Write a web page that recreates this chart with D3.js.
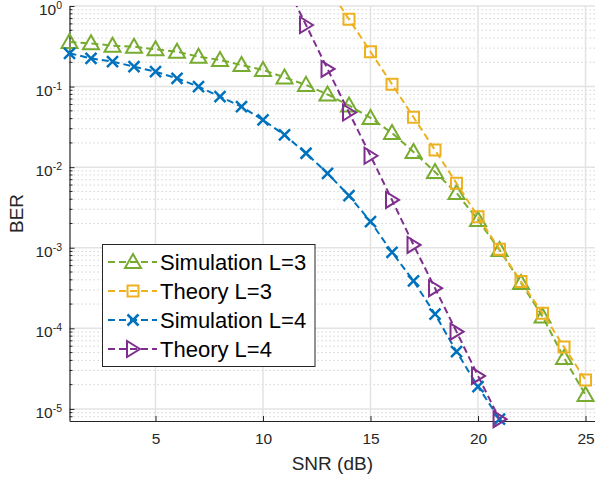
<!DOCTYPE html>
<html>
<head>
<meta charset="utf-8">
<script src="https://cdn.jsdelivr.net/npm/d3@7/dist/d3.min.js"></script>
<style>
  body { margin: 0; background: #fff; }
  svg { display: block; font-family: "Liberation Sans", Arial, sans-serif; }
</style>
</head>
<body>
<svg id="chart" width="595" height="480"></svg>
<script>
"use strict";

// valeurs
var snrSimL3 = [1, 2, 3, 4, 5, 6, 7, 8, 9, 10, 11, 12, 13, 14, 15, 16, 17, 18, 19, 20, 21, 22, 23, 24, 25];
var berSimL3 = [0.357, 0.344, 0.322, 0.313, 0.290, 0.271, 0.235, 0.214, 0.185, 0.161, 0.130, 0.105, 0.0798,
    0.0583, 0.0408, 0.0266, 0.01545, 0.00872, 0.00479, 0.00221, 0.00094, 0.000366, 0.00014, 4.29e-5, 1.49e-5];

var snrTheoL3 = [13, 14, 15, 16, 17, 18, 19, 20, 21, 22, 23, 24, 25];
var berTheoL3 = [1.73, 0.684, 0.271, 0.107, 0.0416, 0.0163, 0.00631, 0.00243, 0.000958, 0.00038, 0.000154, 5.87e-5, 2.29e-5];

var snrSimL4 = [1, 2, 3, 4, 5, 6, 7, 8, 9, 10, 11, 12, 13, 14, 15, 16, 17, 18, 19, 20, 21];
var berSimL4 = [0.259, 0.224, 0.204, 0.177, 0.153, 0.1267, 0.0997, 0.0749, 0.0563, 0.0385, 0.0251, 0.01488,
    0.0084, 0.00442, 0.00211, 0.000879, 0.000387, 0.00015, 5.14e-5, 1.89e-5, 7.45e-6];

var snrTheoL4 = [11, 12, 13, 14, 15, 16, 17, 18, 19, 20, 21];
var berTheoL4 = [2.04, 0.581, 0.1654, 0.0477, 0.01385, 0.00392, 0.001084, 0.000315, 9.1e-5, 2.57e-5, 7.45e-6];

var xTicks = [5, 10, 15, 20, 25];
var yExposants = [0, -1, -2, -3, -4, -5];

var series = [
    {nom: "Simulation L=3", snr: snrSimL3, ber: berSimL3, couleur: "#77ac30", marqueur: "triangleHaut"},
    {nom: "Theory L=3", snr: snrTheoL3, ber: berTheoL3, couleur: "#edb120", marqueur: "carre"},
    {nom: "Simulation L=4", snr: snrSimL4, ber: berSimL4, couleur: "#0072bd", marqueur: "croix"},
    {nom: "Theory L=4", snr: snrTheoL4, ber: berTheoL4, couleur: "#7e2f8e", marqueur: "triangleDroite"}
];

var svg = d3.select("#chart");
var gauche = 69.5, droite = 595.2, haut = 6, bas = 421;

var x = d3.scaleLinear().domain([1, 25.45]).range([gauche, droite]);
var y = d3.scaleLog().domain([Math.pow(10, -5.15), 1]).range([bas, haut]);

// graduations mineures (2..9 x 10^k)
var mineurs = [];
for (var k = -6; k <= 0; k++) {
    for (var m = 2; m <= 9; m++) {
        var v = m * Math.pow(10, k);
        if (v >= y.domain()[0] && v <= 1) mineurs.push(v);
    }
}

// grille mineure pointillée
svg.append("g").selectAll("line").data(mineurs).enter().append("line")
    .attr("x1", gauche).attr("x2", droite)
    .attr("y1", function(d) { return y(d); }).attr("y2", function(d) { return y(d); })
    .attr("stroke", "#d4d4d4").attr("stroke-width", 1).attr("stroke-dasharray", "1.5,2.5");

// grille majeure
svg.append("g").selectAll("line").data(yExposants).enter().append("line")
    .attr("x1", gauche).attr("x2", droite)
    .attr("y1", function(d) { return y(Math.pow(10, d)); }).attr("y2", function(d) { return y(Math.pow(10, d)); })
    .attr("stroke", "#e3e3e3").attr("stroke-width", 1.5);
svg.append("g").selectAll("line").data(xTicks).enter().append("line")
    .attr("x1", function(d) { return x(d); }).attr("x2", function(d) { return x(d); })
    .attr("y1", haut).attr("y2", bas)
    .attr("stroke", "#e3e3e3").attr("stroke-width", 1.5);

// axes
var axeX = d3.axisBottom(x).tickValues(xTicks).tickSize(-5).tickSizeOuter(0).tickPadding(12);
var gx = svg.append("g").attr("transform", "translate(0," + bas + ")").call(axeX);
gx.select(".domain").attr("stroke", "#262626").attr("stroke-width", 1.2);
gx.selectAll(".tick line").attr("stroke", "#262626");
gx.selectAll(".tick text").attr("font-size", 15.5).attr("fill", "#262626")
    .attr("font-family", "Liberation Sans, Arial, sans-serif");

var axeY = d3.axisLeft(y).tickValues(yExposants.map(function(e) { return Math.pow(10, e); }))
    .tickSize(-5).tickSizeOuter(0).tickFormat("");
var gy = svg.append("g").attr("transform", "translate(" + gauche + ",0)").call(axeY);
gy.select(".domain").attr("stroke", "#262626").attr("stroke-width", 1.2);
gy.selectAll(".tick line").attr("stroke", "#262626");

// petites graduations gauche
gy.append("g").selectAll("line").data(mineurs).enter().append("line")
    .attr("x1", 0).attr("x2", 3)
    .attr("y1", function(d) { return y(d); }).attr("y2", function(d) { return y(d); })
    .attr("stroke", "#262626");

// etiquettes 10^k
var etiquettes = svg.append("g").selectAll("text").data(yExposants).enter().append("text")
    .attr("x", 62).attr("y", function(d) { return y(Math.pow(10, d)) + 9; })
    .attr("text-anchor", "end").attr("fill", "#262626").attr("font-size", 15.5);
etiquettes.append("tspan").text("10");
etiquettes.append("tspan").attr("dy", -6).attr("font-size", 10.5).text(function(d) { return d === 0 ? "0" : "-" + Math.abs(d); });

// titres des axes
svg.append("text").attr("x", (gauche + droite) / 2).attr("y", 470).attr("text-anchor", "middle")
    .attr("font-size", 19).attr("fill", "#262626").text("SNR (dB)");
svg.append("text").attr("transform", "translate(23," + ((haut + bas) / 2) + ") rotate(-90)")
    .attr("text-anchor", "middle").attr("font-size", 19).attr("fill", "#262626").text("BER");

// zone de tracé
svg.append("clipPath").attr("id", "zone").append("rect")
    .attr("x", gauche).attr("y", haut).attr("width", droite - gauche).attr("height", bas - haut);

function dessinerMarqueur(g, type, couleur) {
    var s = g.append("path").attr("fill", "none").attr("stroke", couleur).attr("stroke-width", 2)
        .attr("stroke-linejoin", "miter");
    if (type === "triangleHaut") s.attr("d", "M0,-8L8,6L-8,6Z");
    else if (type === "triangleDroite") s.attr("d", "M7,0L-6,-8L-6,8Z");
    else if (type === "carre") s.attr("d", "M-5.5,-5.5H5.5V5.5H-5.5Z");
    else s.attr("d", "M-5.5,-5.5L5.5,5.5M-5.5,5.5L5.5,-5.5").attr("stroke-width", 2.5);
}

var ligne = d3.line()
    .x(function(d) { return x(d[0]); })
    .y(function(d) { return y(d[1]); });

series.forEach(function(serie) {
    var points = serie.snr.map(function(s, i) { return [s, serie.ber[i]]; });
    svg.append("path").datum(points).attr("clip-path", "url(#zone)")
        .attr("d", ligne).attr("fill", "none").attr("stroke", serie.couleur)
        .attr("stroke-width", 2).attr("stroke-dasharray", "7,4");
    var visibles = points.filter(function(p) { return p[1] <= 1; });
    svg.append("g").selectAll("g").data(visibles).enter().append("g")
        .attr("transform", function(d) { return "translate(" + x(d[0]) + "," + y(d[1]) + ")"; })
        .each(function() { dessinerMarqueur(d3.select(this), serie.marqueur, serie.couleur); });
});

// légende
var legende = svg.append("g");
legende.append("rect").attr("x", 102.5).attr("y", 244.5).attr("width", 212.5).attr("height", 122)
    .attr("fill", "#fff").attr("stroke", "#262626").attr("stroke-width", 1);
series.forEach(function(serie, i) {
    var yl = 262 + i * 29;
    legende.append("line").attr("x1", 107).attr("x2", 157).attr("y1", yl).attr("y2", yl)
        .attr("stroke", serie.couleur).attr("stroke-width", 2).attr("stroke-dasharray", "7,4")
        .attr("stroke-dashoffset", -1);
    dessinerMarqueur(legende.append("g").attr("transform", "translate(133," + yl + ")"), serie.marqueur, serie.couleur);
    legende.append("text").attr("x", 160).attr("y", yl + 8).attr("font-size", 22).attr("fill", "#000")
        .text(serie.nom);
});
</script>
</body>
</html>
